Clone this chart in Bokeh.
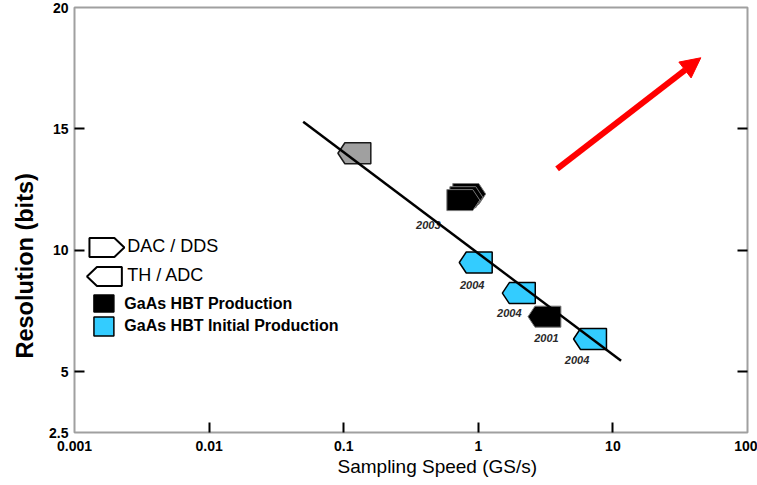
import math
from bokeh.plotting import figure
from bokeh.models import (FixedTicker, LinearAxis, Range1d, LinearScale, Title,
                          Arrow, NormalHead, ColumnDataSource)
from bokeh.core.properties import value
from bokeh.embed import file_html
from bokeh.resources import INLINE

# ---------------- data ----------------
x_ticks = [0.001, 0.01, 0.1, 1, 10, 100]
x_tick_labels = ["0.001", "0.01", "0.1", "1", "10", "100"]
x_inner_ticks = [0.01, 0.1, 1, 10]
y_ticks = [2.5, 5, 10, 15, 20]
y_tick_labels = ["2.5", "5", "10", "15", "20"]
y_inner_ticks = [5, 10, 15]

# devices: sampling speed (GS/s), resolution (bits)
dev_speed = [0.12, 0.857, 0.815, 0.774, 0.957, 2.0, 3.1, 6.76]
dev_bits = [14.0, 12.32, 12.19, 12.07, 9.5, 8.24, 7.27, 6.35]
dev_type = ["TH/ADC", "DAC/DDS", "DAC/DDS", "DAC/DDS", "TH/ADC", "TH/ADC", "TH/ADC", "TH/ADC"]
dev_process = ["other", "prod", "prod", "prod", "initial", "initial", "prod", "initial"]
dev_year = ["", "", "", "2003", "2004", "2004", "2001", "2004"]

trend_speed = [0.05, 11.5]
trend_bits = [15.3, 5.45]

arrow_speed = [3.85, 45]
arrow_bits = [13.36, 17.93]

legend_labels = ["DAC / DDS", "TH / ADC", "GaAs HBT Production", "GaAs HBT Initial Production"]

# ---------------- style ----------------
FONT = "Liberation Sans"
W, H = 757, 485
B_LEFT, B_RIGHT, B_TOP, B_BOTTOM = 72, 10, 7, 53
FW = W - B_LEFT - B_RIGHT
FH = H - B_TOP - B_BOTTOM
PXD = FW / 5.0            # pixels per decade
PXU = FH / (20 - 2.5)     # pixels per bit

fill_of = {"other": "#A0A0A0", "prod": "#000000", "initial": "#33CCFF"}
line_of = {"other": "#1A1A1A", "prod": "#777777", "initial": "#000000"}
lw_of = {"other": 1.5, "prod": 1.0, "initial": 1.5}

DAC_SHAPE = [(-16.5, -10.5), (-16.5, 10.5), (9.5, 10.5), (16.5, 0), (9.5, -10.5)]


def shape(kind, base=DAC_SHAPE):
    return base if kind == "DAC/DDS" else [(-dx, dy) for dx, dy in base]


xs, ys = [], []
for sp, bt, k in zip(dev_speed, dev_bits, dev_type):
    xs.append([sp * 10 ** (dx / PXD) for dx, dy in shape(k)])
    ys.append([bt + dy / PXU for dx, dy in shape(k)])

src = ColumnDataSource(dict(
    xs=xs, ys=ys,
    fill=[fill_of[c] for c in dev_process],
    line=[line_of[c] for c in dev_process],
    lw=[lw_of[c] for c in dev_process],
))

p = figure(width=W, height=H, x_axis_type="log", x_range=(0.001, 100), y_range=(2.5, 20),
           output_backend="svg", toolbar_location=None,
           min_border_left=B_LEFT, min_border_right=B_RIGHT,
           min_border_top=B_TOP, min_border_bottom=B_BOTTOM)
p.background_fill_color = "white"
p.border_fill_color = "white"
p.outline_line_color = "#A0A0A0"
p.outline_line_width = 2
p.xgrid.grid_line_color = None
p.ygrid.grid_line_color = None


def style_axis(ax, ticks, inner, labels):
    ax.ticker = FixedTicker(ticks=ticks, minor_ticks=inner)
    ax.major_label_overrides = {t: l for t, l in zip(ticks, labels)}
    ax.axis_line_color = None
    ax.major_tick_line_color = None
    ax.minor_tick_line_color = "black"
    ax.minor_tick_line_width = 2
    ax.minor_tick_in = 10
    ax.minor_tick_out = 0
    ax.major_tick_in = 0
    ax.major_tick_out = 0
    ax.major_label_text_font = FONT
    ax.major_label_text_font_style = "bold"
    ax.major_label_text_font_size = "14px"
    ax.major_label_text_color = "black"


xa = p.xaxis[0]
ya = p.yaxis[0]
style_axis(xa, x_ticks, x_inner_ticks, x_tick_labels)
style_axis(ya, y_ticks, y_inner_ticks, y_tick_labels)
xa.major_label_standoff = 8
ya.major_label_standoff = 6

ra = LinearAxis()
style_axis(ra, y_ticks, y_inner_ticks, ["" for _ in y_ticks])
ra.major_label_standoff = 0
ra.major_label_text_font_size = "0px"
p.add_layout(ra, "right")

# axis titles (as titles so they can be shifted like the original)
p.add_layout(Title(text="Sampling Speed  (GS/s)", text_font=FONT, text_font_size="19px",
                   text_font_style="normal", align="left", offset=263, standoff=0,
                   text_color="black"), "below")
p.add_layout(Title(text="Resolution (bits)", text_font=FONT, text_font_size="23.5px",
                   text_font_style="bold", align="left", offset=74, standoff=18,
                   text_color="black"), "left")

# device markers
p.patches("xs", "ys", source=src, fill_color="fill", line_color="line", line_width="lw")

# year labels
yr_idx = [i for i, y in enumerate(dev_year) if y]
yr_dx = [-35, -3.5, -9.5, 2, -13]
yr_dy = [25, 22, 19.5, 21.5, 21]
p.text(x=[dev_speed[i] for i in yr_idx], y=[dev_bits[i] for i in yr_idx],
       text=[dev_year[i] for i in yr_idx], x_offset=yr_dx, y_offset=yr_dy,
       text_font=value(FONT), text_font_style="bold italic", text_font_size="11px",
       text_color="#2A2A2A", text_align="center", text_baseline="middle")

# trend line
p.line(trend_speed, trend_bits, line_color="black", line_width=2.5)

# red arrow
p.add_layout(Arrow(x_start=arrow_speed[0], y_start=arrow_bits[0],
                   x_end=arrow_speed[1], y_end=arrow_bits[1],
                   line_color="#FF0000", line_width=6,
                   end=NormalHead(size=20, fill_color="#FF0000", line_color="#FF0000", line_width=1)))

# ---------------- legend (frame pixel space) ----------------
p.extra_x_ranges = {"px": Range1d(0, FW)}
p.extra_y_ranges = {"px": Range1d(0, FH)}
p.extra_x_scales = {"px": LinearScale()}
p.extra_y_scales = {"px": LinearScale()}

LEG_SHAPE = [(-17.5, -9.5), (-17.5, 9.5), (7.5, 9.5), (17.5, 0), (7.5, -9.5)]
icon_pos = [(32.5, 185), (30, 156)]
icon_kind = ["DAC/DDS", "TH/ADC"]
lxs = [[cx + dx for dx, dy in shape(k, LEG_SHAPE)] for (cx, cy), k in zip(icon_pos, icon_kind)]
lys = [[cy + dy for dx, dy in shape(k, LEG_SHAPE)] for (cx, cy), k in zip(icon_pos, icon_kind)]
p.patches(lxs, lys, fill_color="white", line_color="black", line_width=2,
          x_range_name="px", y_range_name="px")
p.rect(x=[29.5, 29.5], y=[129, 106], width=[20, 20], height=[17, 19],
       fill_color=["#000000", "#33CCFF"], line_color="black", line_width=1.5,
       x_range_name="px", y_range_name="px")
p.text(x=[53, 53], y=[187, 158], text=legend_labels[:2],
       text_font=value(FONT), text_font_size="18px", text_color="black",
       text_baseline="middle", x_range_name="px", y_range_name="px")
p.text(x=[50, 50], y=[129, 107], text=legend_labels[2:],
       text_font=value(FONT), text_font_style="bold", text_font_size="16px", text_color="black",
       text_baseline="middle", x_range_name="px", y_range_name="px")

open("out.html", "w").write(file_html(p, INLINE))
